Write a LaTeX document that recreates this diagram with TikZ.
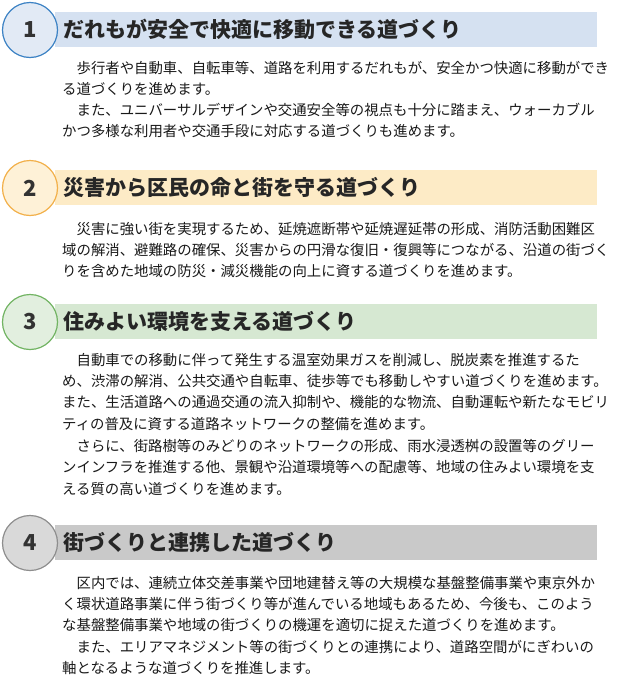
\documentclass[tikz,border=0pt]{standalone}
\usepackage{fontspec}
\setmainfont{Noto Sans CJK JP}
\usetikzlibrary{positioning}
\definecolor{barblue}{HTML}{D5E1F1}
\definecolor{ringblue}{HTML}{3C82C4}
\definecolor{barorange}{HTML}{FDEBC6}
\definecolor{ringorange}{HTML}{F2B04A}
\definecolor{bargreen}{HTML}{D6E8D2}
\definecolor{ringgreen}{HTML}{72B463}
\definecolor{bargray}{HTML}{C9C9C9}
\definecolor{ringgray}{HTML}{8E8E8E}
\tikzset{
	headbar/.style={inner sep=0pt, minimum height=35pt, minimum width=542pt, anchor=west},
	headtitle/.style={inner sep=0pt, anchor=west, font=\fontsize{21}{21}\selectfont\bfseries, text=black!85},
	numring/.style={circle, line width=1.2pt, minimum size=55pt, inner sep=0pt, font=\fontsize{22}{22}\selectfont\bfseries, text=black!80},
	bodyline/.style={inner sep=0pt, anchor=west, font=\fontsize{14.4}{14.4}\selectfont, text=black!90}
}
\begin{document}
\begin{tikzpicture}[x=1pt, y=-1pt]
	\useasboundingbox[fill=white] (0,0) rectangle (641,675);
	% section headers
	\foreach \n/\y/\bar/\ring/\ttl in {
		1/30/barblue/ringblue/だれもが安全で快適に移動できる道づくり,
		2/188/barorange/ringorange/災害から区民の命と街を守る道づくり,
		3/322/bargreen/ringgreen/住みよい環境を支える道づくり,
		4/543/bargray/ringgray/街づくりと連携した道づくり}{
		\node[headbar, fill=\bar] (bar\n) at (55,\y-0.5) {};
		\node[numring, draw=\ring, fill=\bar!70!white] (num\n) at (30,\y) {\n};
		\node[headtitle, right=5pt of num\n.east |- bar\n.west] (title\n) {\ttl};
	}
	% body text
	\foreach \y/\txt in {
		68/　歩行者や自動車、自転車等、道路を利用するだれもが、安全かつ快適に移動ができ,
		89/る道づくりを進めます。,
		110/　また、ユニバーサルデザインや交通安全等の視点も十分に踏まえ、ウォーカブル,
		131/かつ多様な利用者や交通手段に対応する道づくりも進めます。,
		229/　災害に強い街を実現するため、延焼遮断帯や延焼遅延帯の形成、消防活動困難区,
		250/域の解消、避難路の確保、災害からの円滑な復旧・復興等につながる、沿道の街づく,
		271/りを含めた地域の防災・減災機能の向上に資する道づくりを進めます。,
		360/　自動車での移動に伴って発生する温室効果ガスを削減し、脱炭素を推進するた,
		381/め、渋滞の解消、公共交通や自転車、徒歩等でも移動しやすい道づくりを進めます。,
		402/また、生活道路への通過交通の流入抑制や、機能的な物流、自動運転や新たなモビリ,
		424/ティの普及に資する道路ネットワークの整備を進めます。,
		446/　さらに、街路樹等のみどりのネットワークの形成、雨水浸透桝の設置等のグリー,
		467/ンインフラを推進する他、景観や沿道環境等への配慮等、地域の住みよい環境を支,
		489/える質の高い道づくりを進めます。,
		583/　区内では、連続立体交差事業や団地建替え等の大規模な基盤整備事業や東京外か,
		604/く環状道路事業に伴う街づくり等が進んでいる地域もあるため、今後も、このよう,
		625/な基盤整備事業や地域の街づくりの機運を適切に捉えた道づくりを進めます。,
		647/　また、エリアマネジメント等の街づくりとの連携により、道路空間がにぎわいの,
		668/軸となるような道づくりを推進します。}{
		\node[bodyline] (line\y) at (62,\y) {\txt};
	}
\end{tikzpicture}
\end{document}
